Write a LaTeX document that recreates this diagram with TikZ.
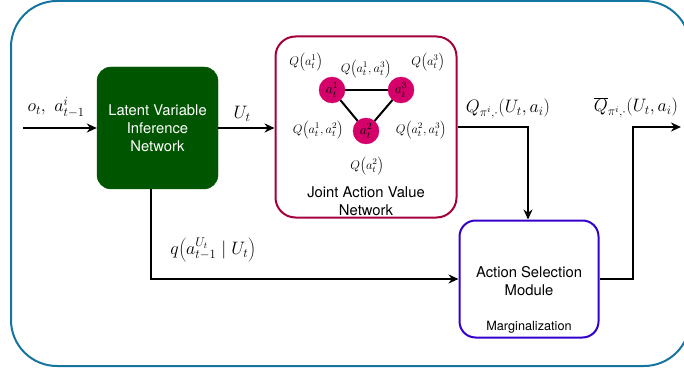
\RequirePackage{fix-cm}
\documentclass[tikz,border=0pt]{standalone}
\usepackage{fontspec}
\setsansfont{TeX Gyre Heros}
\usetikzlibrary{arrows.meta}
\definecolor{outerblue}{RGB}{22,116,160}
\definecolor{lvgreen}{RGB}{0,86,0}
\definecolor{crim}{RGB}{165,0,60}
\definecolor{magen}{RGB}{214,0,107}
\definecolor{violet}{RGB}{51,0,204}
\begin{document}
\begin{tikzpicture}[x=1pt,y=-1pt,
  arr/.style={draw=black,line width=2pt,-{Stealth[length=10pt,width=9pt]}},
  conn/.style={draw=black,line width=2pt},
  boxtext/.style={font=\sffamily\fontsize{14.8}{18}\selectfont,align=center},
  mlab/.style={font=\fontsize{18}{20}\selectfont},
  qlab/.style={font=\fontsize{12.5}{14}\selectfont},
  anode/.style={circle,fill=magen,draw=magen,minimum size=26pt,inner sep=0pt,font=\fontsize{13.5}{14}\selectfont}
]
\useasboundingbox (0,0) rectangle (684,371);
\clip (0,0) rectangle (684,371);
\draw[outerblue,line width=2pt,rounded corners=46pt] (11,1) rectangle (690,366);

% boxes
\node[draw=lvgreen,fill=lvgreen,rounded corners=14pt,minimum width=121pt,minimum height=122pt,
  text=white,boxtext] (lvin) at (157.5,128) {Latent Variable\\Inference\\Network};
\node[draw=crim,line width=2pt,rounded corners=20pt,minimum width=181pt,minimum height=181pt] (javn) at (366,127) {};
\node[boxtext] (javnt) at (366,201) {Joint Action Value\\Network};
\node[draw=violet,line width=2pt,rounded corners=16pt,minimum width=139pt,minimum height=117pt] (asm) at (529,279) {};
\node[boxtext] (asmt) at (529,281) {Action Selection\\Module};
\node[font=\sffamily\fontsize{12.7}{14}\selectfont] (marg) at (529,327) {Marginalization};

% action nodes
\node[anode] (c1) at (332,90) {$a_t^1$};
\node[anode] (c3) at (401,90) {$a_t^3$};
\node[anode] (c2) at (366,131) {$a_t^2$};
\draw[conn] (c1) -- (c3);
\draw[conn] (c1) -- (c2);
\draw[conn] (c3) -- (c2);
\node[qlab] (q1) at (306,62) {$Q\mathopen{}\left(a_t^1\right)$};
\node[qlab] (q13) at (366,69) {$Q\mathopen{}\left(a_t^1,a_t^3\right)$};
\node[qlab] (q3) at (428,62) {$Q\mathopen{}\left(a_t^3\right)$};
\node[qlab] (q12) at (318,130) {$Q\mathopen{}\left(a_t^1,a_t^2\right)$};
\node[qlab] (q23) at (421,130) {$Q\mathopen{}\left(a_t^2,a_t^3\right)$};
\node[qlab] (q2) at (367,166) {$Q\mathopen{}\left(a_t^2\right)$};

% connectors
\coordinate (inp) at (23,128);
\draw[arr] (inp) -- (lvin.west);
\node[mlab] (inlab) at (56,107) {$o_t,\ a_{t-1}^i$};
\draw[arr] (lvin.east) -- (lvin.east -| javn.west);
\node[mlab] (ulab) at (242,114) {$U_t$};
\draw[arr] (javn.east) -| ([xshift=-1pt]asm.north);
\node[mlab] (qlabel) at (508,109) {$Q_{\pi^i,\cdot}(U_t,a_i)$};
\coordinate (outp) at (681,127);
\draw[arr] (asm.east) -- ++(33,0) |- (outp);
\node[mlab] (qbar) at (636,108) {$\overline{Q}_{\pi^i,\cdot}(U_t,a_i)$};
\draw[arr] ([xshift=-6.5pt]lvin.south) |- (asm.west);
\node[mlab] (qq) at (213,250) {$q\mathopen{}\left(a_{t-1}^{U_t}\mid U_t\right)$};
\end{tikzpicture}
\end{document}
